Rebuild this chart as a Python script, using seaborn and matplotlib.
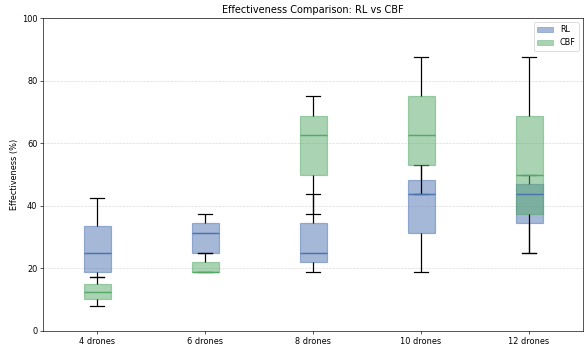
import numpy as np
import pandas as pd
import matplotlib
matplotlib.use("Agg")
import matplotlib.pyplot as plt
from matplotlib.patches import Patch
import seaborn as sns

categories = ["4 drones", "6 drones", "8 drones", "10 drones", "12 drones"]
methods = ["RL", "CBF"]

# five-number summaries: min, q1, median, q3, max
rl_min = [17.2, 25.0, 18.75, 18.75, 25.0]
rl_q1 = [18.75, 25.0, 21.9, 31.25, 34.4]
rl_med = [25.0, 31.25, 25.0, 43.75, 43.75]
rl_q3 = [33.4, 34.4, 34.4, 48.4, 46.9]
rl_max = [42.4, 37.5, 43.75, 53.1, 50.0]

cbf_min = [8.0, 18.75, 37.5, 43.75, 25.0]
cbf_q1 = [10.2, 18.75, 50.0, 53.1, 37.5]
cbf_med = [12.5, 18.75, 62.5, 62.5, 50.0]
cbf_q3 = [15.0, 21.9, 68.75, 75.0, 68.75]
cbf_max = [17.2, 25.0, 75.0, 87.5, 87.5]

colors = {"RL": "#4C72B0", "CBF": "#55A868"}

rows = []
series = {
    "RL": (rl_min, rl_q1, rl_med, rl_q3, rl_max),
    "CBF": (cbf_min, cbf_q1, cbf_med, cbf_q3, cbf_max),
}
for m in methods:
    for i, c in enumerate(categories):
        for arr in series[m]:
            rows.append({"cat": c, "method": m, "val": arr[i]})
df = pd.DataFrame(rows)

fig, ax = plt.subplots(figsize=(10, 349 / 58.4), dpi=58.4)
ax.set_axisbelow(True)

sns.boxplot(data=df, x="cat", y="val", hue="method", order=categories,
            hue_order=methods, palette=colors, dodge=False, width=0.25,
            whis=(0, 100), linecolor="black", linewidth=1.5, ax=ax,
            legend=False)

for cont, m in zip(ax.containers, methods):
    col = colors[m]
    for b in cont.boxes:
        b.set_facecolor(col)
        b.set_edgecolor(col)
        b.set_alpha(0.5)
    for md in cont.medians:
        md.set_color(col)
        md.set_linewidth(1.8)
    for w in list(cont.whiskers) + list(cont.caps):
        w.set_color("black")

ax.set_ylim(0, 100)
ax.set_xlim(-0.5, 4.5)
ax.set_yticks([0, 20, 40, 60, 80, 100])
ax.set_xlabel("")
ax.set_ylabel("Effectiveness (%)")
ax.set_title("Effectiveness Comparison: RL vs CBF")
ax.yaxis.grid(True, linestyle="--", color="#b0b0b0", alpha=0.5)
ax.xaxis.grid(False)

handles = [Patch(facecolor=colors[m], edgecolor=colors[m], alpha=0.5, label=m)
           for m in methods]
ax.legend(handles=handles, loc="upper right")

fig.subplots_adjust(left=43 / 584, right=583 / 584, bottom=1 - 331 / 349, top=1 - 18 / 349)
fig.savefig("out.png", dpi=58.4)
